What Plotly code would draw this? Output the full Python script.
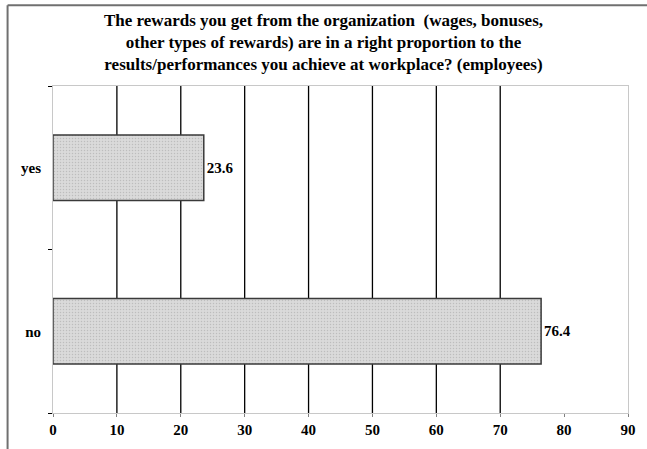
import plotly.graph_objects as go

categories = ["no", "yes"]
values = [76.4, 23.6]
x_ticks = [0, 10, 20, 30, 40, 50, 60, 70, 80, 90]
grid_values = [10, 20, 30, 40, 50, 60, 70]
title_text = ("The rewards you get from the organization  (wages, bonuses,<br>"
              "other types of rewards) are in a right proportion to the<br>"
              "results/performances you achieve at workplace? (employees)")

FONT = "Liberation Serif, Times New Roman, serif"

fig = go.Figure()
fig.add_trace(go.Bar(
    x=values, y=categories, orientation="h", width=0.4,
    marker=dict(color="#dadada",
                line=dict(color="#3a3a3a", width=1.5),
                pattern=dict(shape=".", fgcolor="#a0a0a0", size=3, solidity=0.2)),
    text=[f"{v:.1f}" for v in values], textposition="outside",
    textfont=dict(family=FONT, size=15, color="black", weight="bold"),
    cliponaxis=False, showlegend=False,
))

shapes = []
for g in grid_values:
    shapes.append(dict(type="line", xref="x", yref="paper", x0=g, x1=g, y0=0, y1=1,
                       line=dict(color="black", width=1.3), layer="below"))
# outer chart border (top and left edges)
shapes.append(dict(type="line", xref="paper", yref="paper", x0=-0.079, x1=1.05, y0=1.247, y1=1.247,
                   line=dict(color="#707070", width=2)))
shapes.append(dict(type="line", xref="paper", yref="paper", x0=-0.079, x1=-0.079, y0=1.247, y1=-0.12,
                   line=dict(color="#707070", width=2)))

fig.update_layout(
    width=647, height=449,
    margin=dict(l=53, r=11, t=86, b=35),
    paper_bgcolor="white", plot_bgcolor="white",
    title=dict(text=title_text, x=0.5, xanchor="center", y=0.942, yanchor="middle",
               font=dict(family=FONT, size=17, color="black", weight="bold")),
    shapes=shapes,
    xaxis=dict(range=[0, 90], tickvals=x_ticks, showgrid=False, zeroline=False,
               showline=True, linecolor="#c8c8c8", linewidth=1, mirror=True,
               ticks="outside", ticklen=3, tickcolor="#808080",
               tickfont=dict(family=FONT, size=15, color="black", weight="bold")),
    yaxis=dict(categoryorder="array", categoryarray=categories, showgrid=False,
               showline=True, linecolor="#c8c8c8", linewidth=1, mirror=True,
               ticks="outside", ticklen=4, tickcolor="black", tickson="boundaries",
               ticklabelstandoff=8,
               tickfont=dict(family=FONT, size=15, color="black", weight="bold")),
    bargap=0.6,
)

fig.write_html("out.html", config={"displayModeBar": False},
               post_script="document.body.style.margin='0';document.body.style.padding='0';")
